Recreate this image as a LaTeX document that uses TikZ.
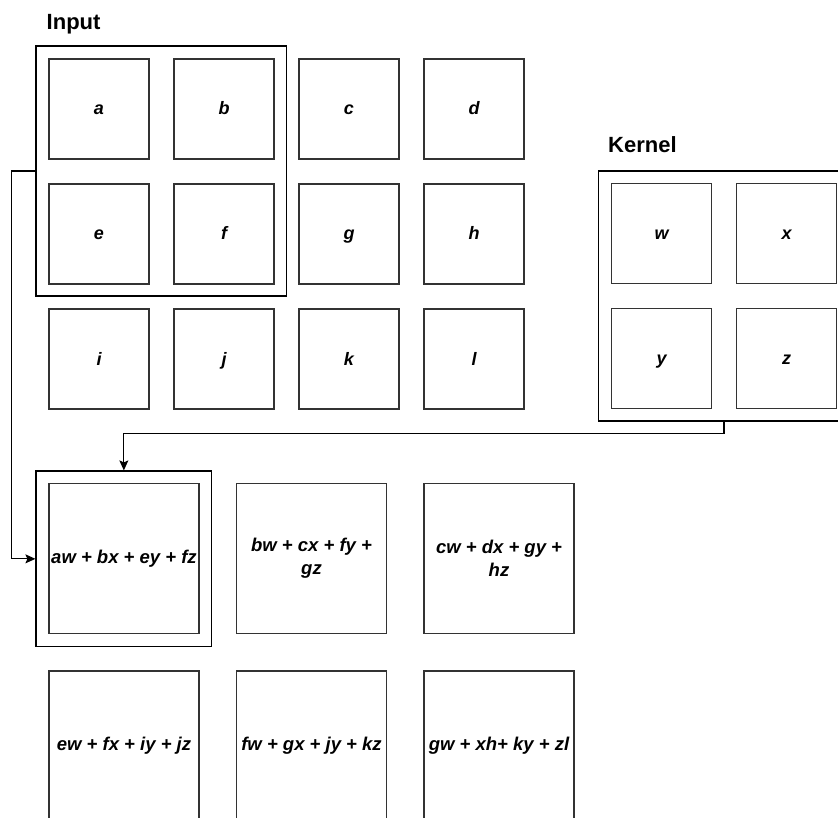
\documentclass[tikz,border=0pt]{standalone}
\usepackage{fontspec}
\setmainfont{Liberation Sans}
\usetikzlibrary{arrows.meta}
\begin{document}
\begin{tikzpicture}[x=1pt,y=-1pt,
  cellbox/.style={draw=black!80,line width=1.2pt,minimum width=100pt,minimum height=100pt,inner sep=0pt,text height=12pt,text depth=0pt,font=\fontsize{18}{21}\selectfont\bfseries\itshape},
  outbox/.style={draw=black!80,line width=1.2pt,minimum width=150pt,minimum height=150pt,inner sep=0pt,align=center,font=\fontsize{18.5}{22.5}\selectfont\bfseries\itshape},
  framebox/.style={draw=black,line width=1.2pt,inner sep=0pt},
  title/.style={font=\fontsize{22}{26}\selectfont\bfseries,anchor=base west,inner sep=0pt},
  conn/.style={draw=black,line width=1.1pt,-{Stealth[length=10pt,width=9pt,inset=2pt]}}
]
\useasboundingbox (0,0) rectangle (838,818);
\clip (0,0) rectangle (838,818);
% titles
\node[title] (tin) at (46.5,29.3) {Input};
\node[title] (tker) at (608,153) {Kernel};
% frames
\node[framebox,minimum width=250.5pt,minimum height=250pt] (inframe) at (161.25,171) {};
\node[framebox,minimum width=251.4pt,minimum height=250pt] (kframe) at (724,296) {};
\node[framebox,minimum width=175.7pt,minimum height=175.7pt] (outframe) at (123.85,558.85) {};
% input cells
\node[cellbox] (a) at (99,109) {a};
\node[cellbox] (b) at (224,109) {b};
\node[cellbox] (c) at (349,109) {c};
\node[cellbox] (d) at (474,109) {d};
\node[cellbox] (e) at (99,234) {e};
\node[cellbox] (f) at (224,234) {f};
\node[cellbox] (g) at (349,234) {g};
\node[cellbox] (h) at (474,234) {h};
\node[cellbox] (i) at (99,359) {i};
\node[cellbox] (j) at (224,359) {j};
\node[cellbox] (k) at (349,359) {k};
\node[cellbox] (l) at (474,359) {l};
% kernel cells
\node[cellbox] (w) at (661.7,233.3) {w};
\node[cellbox] (xk) at (786.7,233.3) {x};
\node[cellbox] (yk) at (661.7,358.3) {y};
\node[cellbox] (zk) at (786.7,358.3) {z};
% output cells
\node[outbox] (o1) at (124,558.3) {aw + bx + ey + fz};
\node[outbox] (o2) at (311.5,558.3) {bw + cx + fy +\\gz};
\node[outbox] (o3) at (499,558.3) {cw + dx + gy +\\hz};
\node[outbox] (o4) at (124,746) {ew + fx + iy + jz};
\node[outbox] (o5) at (311.5,746) {fw + gx + jy + kz};
\node[outbox] (o6) at (499,746) {gw + xh+ ky + zl};
% connectors
\coordinate (bendL) at (11.7,171);
\draw[conn] (inframe.west) -- (bendL) |- (outframe.west);
\coordinate (bendK) at (724,433.3);
\draw[conn] (kframe.south) -- (bendK) -| (outframe.north);
\end{tikzpicture}
\end{document}
